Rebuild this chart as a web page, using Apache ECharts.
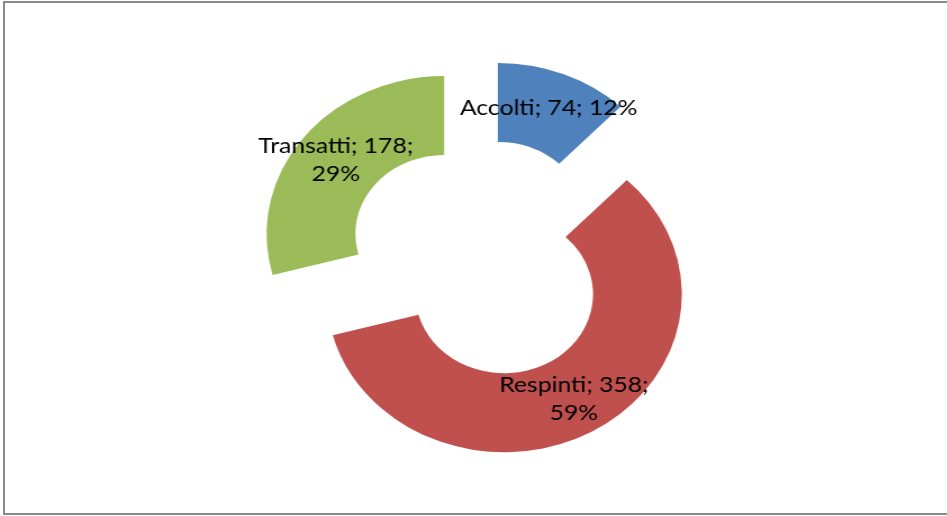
<!DOCTYPE html>
<html>
<head>
<meta charset="utf-8">
<script src="https://cdn.jsdelivr.net/npm/echarts@6/dist/echarts.min.js"></script>
<style>
  html, body { margin: 0; padding: 0; background: #fff; overflow: hidden; }
  #frame {
    position: absolute; left: 3px; top: 1px; width: 1000px; height: 510px;
    border-left: 2px solid #8a8a8a; border-top: 2px solid #8a8a8a; border-bottom: 2px solid #8a8a8a;
  }
  /* the reference doughnut is stretched horizontally, so stretch the chart the same way */
  #chart {
    position: absolute; left: 0; top: 0; width: 947px; height: 516px;
    transform: scaleX(1.124); transform-origin: 480.7px 0;
  }
</style>
</head>
<body>
<div id="frame"></div>
<div id="chart"></div>
<script>
// data
var categories = ['Accolti', 'Respinti', 'Transatti']
var values = [74, 358, 178]
var colors = ['#4F81BD', '#C0504D', '#9BBB59']

var chart = echarts.init(document.getElementById('chart'))

var seriesData = categories.map(function (name, i) {
  return {
    name: name,
    value: values[i],
    selected: true,
    itemStyle: { color: colors[i] }
  }
})

chart.setOption({
  animation: false,
  series: [{
    type: 'pie',
    center: [480.7, 259],
    radius: [79, 158],
    startAngle: 90,
    clockwise: true,
    selectedMode: 'multiple',
    selectedOffset: 41,
    percentPrecision: 0,
    minShowLabelAngle: 0,
    avoidLabelOverlap: false,
    labelLayout: { hideOverlap: false },
    label: {
      show: true,
      position: 'inside',
      // long labels wrap before the percentage, like Excel does
      formatter: function (p) {
        var s = p.name + '; ' + p.value + ';'
        return s + (s.length > 13 ? '\n' : ' ') + p.percent + '%'
      },
      color: '#000',
      fontFamily: 'Lato',
      fontSize: 22,
      lineHeight: 28,
      align: 'center'
    },
    labelLine: { show: false },
    emphasis: { disabled: true },
    data: seriesData
  }]
})
</script>
</body>
</html>
